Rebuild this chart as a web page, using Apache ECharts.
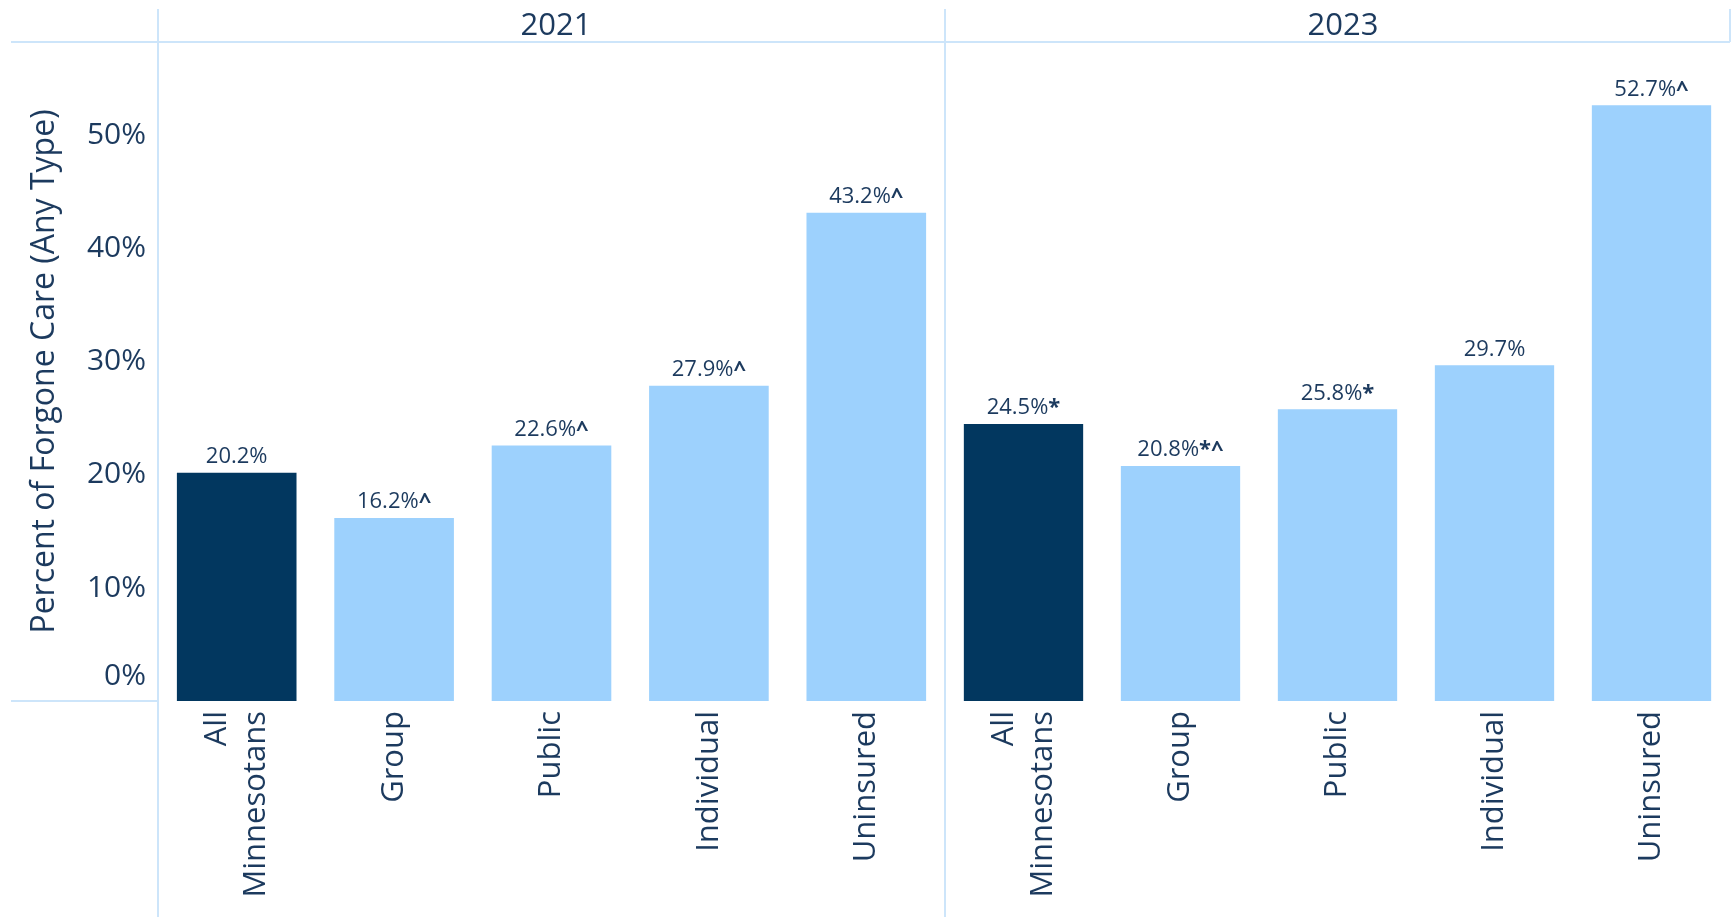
<!DOCTYPE html>
<html>
<head>
<meta charset="utf-8">
<title>Forgone Care</title>
<script src="https://cdn.jsdelivr.net/npm/echarts@6/dist/echarts.min.js"></script>
<style>
  html, body { margin: 0; padding: 0; background: #fff; }
  #main { width: 1733px; height: 917px; }
</style>
</head>
<body>
<div id="main"></div>
<script>
// chart data
var years = ['2021', '2023']
var categories = ['All\nMinnesotans', 'Group', 'Public', 'Individual', 'Uninsured']
var values2021 = [20.2, 16.2, 22.6, 27.9, 43.2]
var values2023 = [24.5, 20.8, 25.8, 29.7, 52.7]
var marks2021 = ['', '^', '^', '^', '^']
var marks2023 = ['*', '*^', '*', '', '^']
var yTicks = [0, 10, 20, 30, 40, 50]

var navy = '#1c3a5e'
var darkBar = '#02375f'
var lightBar = '#9dd1fd'
var frame = '#cde5fa'
var font = 'Open Sans'

function barData (values) {
  // first bar is the all-Minnesotans total, drawn dark
  return values.map(function (v, i) {
    return { value: v, itemStyle: { color: i === 0 ? darkBar : lightBar } }
  })
}

function labelFor (marks) {
  return {
    show: true,
    position: 'top',
    distance: 5,
    formatter: function (p) {
      var m = marks[p.dataIndex]
      return '{v|' + p.value.toFixed(1) + '%}' + (m ? '{m|' + m + '}' : '')
    },
    rich: {
      v: { fontFamily: font, fontSize: 22, color: navy },
      m: { fontFamily: font, fontSize: 22, color: navy, fontWeight: 'bold' }
    }
  }
}

var yMax = 58.3

var yAxisBase = {
  type: 'value',
  min: 0,
  max: yMax,
  interval: 10,
  splitLine: { show: false },
  axisTick: { show: false },
  axisLine: { show: false }
}

var xAxisBase = {
  type: 'category',
  data: categories,
  axisLine: { show: false },
  axisTick: { show: false },
  axisLabel: {
    interval: 0,
    rotate: 90,
    margin: 10,
    fontFamily: font,
    fontSize: 31,
    color: navy,
    lineHeight: 39
  }
}

var option = {
  animation: false,
  title: [
    { text: years[0], left: 551, top: 6, textAlign: 'center',
      textStyle: { fontFamily: font, fontSize: 31, fontWeight: 'normal', color: navy } },
    { text: years[1], left: 1338, top: 6, textAlign: 'center',
      textStyle: { fontFamily: font, fontSize: 31, fontWeight: 'normal', color: navy } }
  ],
  grid: [
    { left: 158, right: 788, top: 42, bottom: 216 },
    { left: 945, right: 3, top: 42, bottom: 216 }
  ],
  xAxis: [
    Object.assign({ gridIndex: 0 }, xAxisBase),
    Object.assign({ gridIndex: 1 }, xAxisBase)
  ],
  yAxis: [
    Object.assign({ gridIndex: 0 }, yAxisBase, {
      name: 'Percent of Forgone Care (Any Type)',
      nameLocation: 'middle',
      nameGap: 97,
      nameTextStyle: { fontFamily: font, fontSize: 32, color: navy },
      axisLabel: {
        margin: 12,
        showMaxLabel: false,
        fontFamily: font,
        fontSize: 30,
        color: navy,
        formatter: function (v) {
          if (yTicks.indexOf(v) < 0) return ''
          return v === 0 ? '{z|0%}' : v + '%'
        },
        rich: { z: { fontFamily: font, fontSize: 30, color: navy, padding: [0, 0, 50, 0] } }
      }
    }),
    Object.assign({ gridIndex: 1 }, yAxisBase, { axisLabel: { show: false } })
  ],
  series: [
    {
      type: 'bar', xAxisIndex: 0, yAxisIndex: 0,
      barCategoryGap: '24%',
      data: barData(values2021),
      label: labelFor(marks2021)
    },
    {
      type: 'bar', xAxisIndex: 1, yAxisIndex: 1,
      barCategoryGap: '24%',
      data: barData(values2023),
      label: labelFor(marks2023)
    }
  ],
  // panel frame lines (header rule, separators, left baseline)
  graphic: [
    { type: 'line', shape: { x1: 11, y1: 42, x2: 1730, y2: 42 }, style: { stroke: frame, lineWidth: 2 } },
    { type: 'line', shape: { x1: 11, y1: 701, x2: 158, y2: 701 }, style: { stroke: frame, lineWidth: 2 } },
    { type: 'line', shape: { x1: 158, y1: 9, x2: 158, y2: 917 }, style: { stroke: frame, lineWidth: 2 } },
    { type: 'line', shape: { x1: 945, y1: 9, x2: 945, y2: 917 }, style: { stroke: frame, lineWidth: 2 } },
    { type: 'line', shape: { x1: 1730, y1: 9, x2: 1730, y2: 42 }, style: { stroke: frame, lineWidth: 2 } }
  ]
}

var myChart = echarts.init(document.getElementById('main'))
myChart.setOption(option)
</script>
</body>
</html>
